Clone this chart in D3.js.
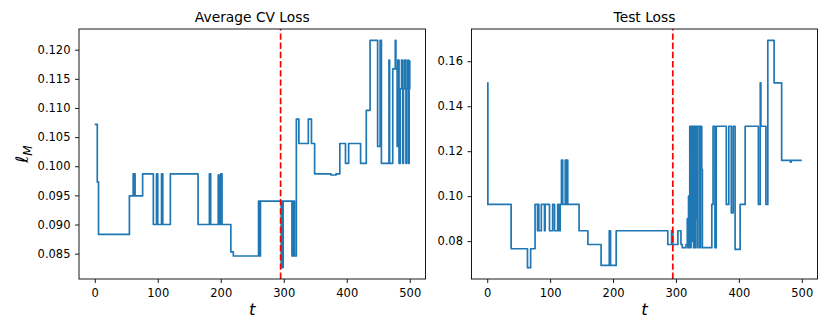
<!DOCTYPE html>
<html>
<head>
<meta charset="utf-8">
<script src="https://cdnjs.cloudflare.com/ajax/libs/d3/7.8.5/d3.min.js"></script>
<style>
  body { margin: 0; background: #fff; }
  svg { font-family: "DejaVu Sans", sans-serif; }
</style>
</head>
<body>
<div id="chart"></div>
<script>
// Figure size
const WIDTH = 830;
const HEIGHT = 332;
const PLOT_TOP = 29;
const PLOT_BOTTOM = 279;
const LINE_COLOR = "#1f77b4";

// Step data: each value holds from its t until the next change point
const cvT = [0, 4, 6, 55, 61, 62, 63, 64, 76, 93, 98, 100, 106, 108, 120, 164, 182, 184,
  196, 198, 200, 202, 216, 220, 260, 262, 263, 296, 297, 298, 299, 313, 314, 315, 316, 317,
  320, 324, 339, 344, 349, 375, 383, 389, 398, 403, 422, 431, 437, 449, 453, 455, 467, 468,
  473, 477, 478, 480, 481, 483, 485, 487, 489, 490, 492, 494, 495, 497, 498, 499, 500];
const cvLoss = [0.1072, 0.0973, 0.0883, 0.0949, 0.0987, 0.0949, 0.0987, 0.0949, 0.0987, 0.0900,
  0.0987, 0.0900, 0.0987, 0.0900, 0.0987, 0.0900, 0.0987, 0.0900,
  0.0985, 0.0900, 0.0987, 0.0900, 0.0853, 0.0846, 0.0940, 0.0846, 0.0940, 0.0826, 0.0940, 0.0826,
  0.0940, 0.0846, 0.0940, 0.0846, 0.0940, 0.0846,
  0.1081, 0.1039, 0.1081, 0.1039, 0.0987, 0.0985, 0.0987, 0.1039, 0.1005, 0.1039, 0.1005, 0.1096,
  0.1216, 0.1034, 0.1216, 0.1005, 0.1182, 0.1005,
  0.1167, 0.1216, 0.1167, 0.1034, 0.1182, 0.1005, 0.1133, 0.1182, 0.1005, 0.1133, 0.1182, 0.1005,
  0.1133, 0.1182, 0.1005, 0.1133, 0.1182];

const testT = [0, 1, 38, 64, 69, 76, 80, 81, 82, 86, 91, 92, 99, 104, 107, 112, 114, 116, 118,
  120, 124, 125, 126, 128, 146, 160, 181, 194, 196, 205, 287, 293, 295, 303, 308, 310, 316,
  318, 319, 320, 321, 322, 323, 324, 325, 326, 328, 329, 330, 331, 332, 333, 334, 335, 338,
  339, 341, 342, 357, 359, 362, 364, 380, 384, 388, 391, 394, 402, 410, 431, 434, 435, 443,
  446, 456, 468, 482, 483, 500];
const testLoss = [0.1504, 0.0963, 0.0766, 0.0682, 0.0766, 0.0963, 0.0846, 0.0963, 0.0846, 0.0963,
  0.0846, 0.0963, 0.0846, 0.0963, 0.0846, 0.0963, 0.0846, 0.0963, 0.1160,
  0.0963, 0.1160, 0.0963, 0.1160, 0.0963, 0.0846, 0.0785, 0.0692, 0.0846, 0.0692, 0.0846, 0.0785,
  0.0846, 0.0785, 0.0846, 0.0785, 0.0771, 0.0785,
  0.0900, 0.0771, 0.1000, 0.0771, 0.1311, 0.0771, 0.1311, 0.0800, 0.1311, 0.0771, 0.1311, 0.0771,
  0.1311, 0.0900, 0.1311, 0.0771, 0.1311, 0.0771,
  0.1311, 0.1119, 0.0771, 0.0963, 0.1311, 0.0771, 0.1311, 0.0963, 0.1311, 0.0926, 0.1311, 0.0763,
  0.0963, 0.1311, 0.0963, 0.1504, 0.1311, 0.0963,
  0.1693, 0.1504, 0.1159, 0.1151, 0.1159, 0.1159];

// Axis ticks and labels
const xTicks = [0, 100, 200, 300, 400, 500];
const cvTicks = [0.085, 0.090, 0.095, 0.100, 0.105, 0.110, 0.115, 0.120];
const testTicks = [0.08, 0.10, 0.12, 0.14, 0.16];
const titles = ["Average CV Loss", "Test Loss"];
const splitT = 295;

var svg = d3.select("#chart")
  .append("svg")
  .attr("width", WIDTH)
  .attr("height", HEIGHT);

drawPanel(0, 79, 425.5, cvT, cvLoss, cvTicks, ".3f", titles[0], true);
drawPanel(1, 471.5, 817.5, testT, testLoss, testTicks, ".2f", titles[1], false);

/**
 * Draw one subplot with its frame, axes, step line and split marker
 */
function drawPanel(idx, left, right, tArr, vArr, yTicks, fmt, title, withYLabel) {
  let data = tArr.map((t, i) => ({ t: t, v: vArr[i] }));

  // matplotlib style 5% margins
  let tExt = d3.extent(tArr);
  let tPad = (tExt[1] - tExt[0]) * 0.05;
  let vExt = d3.extent(vArr);
  let vPad = (vExt[1] - vExt[0]) * 0.05;

  let x = d3.scaleLinear()
    .domain([tExt[0] - tPad, tExt[1] + tPad])
    .range([left, right]);
  let y = d3.scaleLinear()
    .domain([vExt[0] - vPad, vExt[1] + vPad])
    .range([PLOT_BOTTOM, PLOT_TOP]);

  let g = svg.append("g");

  g.append("clipPath")
    .attr("id", "clip" + idx)
    .append("rect")
    .attr("x", left)
    .attr("y", PLOT_TOP)
    .attr("width", right - left)
    .attr("height", PLOT_BOTTOM - PLOT_TOP);

  // loss curve
  g.append("path")
    .datum(data)
    .attr("clip-path", "url(#clip" + idx + ")")
    .attr("fill", "none")
    .attr("stroke", LINE_COLOR)
    .attr("stroke-width", 1.7)
    .attr("stroke-linejoin", "round")
    .attr("d", d3.line()
      .x(d => x(d.t))
      .y(d => y(d.v))
      .curve(d3.curveStepAfter));

  // split marker, drawn bottom to top like axvline
  g.append("line")
    .attr("x1", x(splitT))
    .attr("x2", x(splitT))
    .attr("y1", PLOT_BOTTOM)
    .attr("y2", PLOT_TOP)
    .attr("stroke", "#ff0000")
    .attr("stroke-width", 1.7)
    .attr("stroke-dasharray", "6.4,2.8");

  // frame
  g.append("rect")
    .attr("x", left)
    .attr("y", PLOT_TOP)
    .attr("width", right - left)
    .attr("height", PLOT_BOTTOM - PLOT_TOP)
    .attr("fill", "none")
    .attr("stroke", "#000")
    .attr("stroke-width", 0.9);

  let gx = g.append("g")
    .attr("transform", "translate(0," + PLOT_BOTTOM + ")")
    .call(d3.axisBottom(x).tickValues(xTicks).tickSize(4).tickPadding(6));
  let gy = g.append("g")
    .attr("transform", "translate(" + left + ",0)")
    .call(d3.axisLeft(y).tickValues(yTicks).tickFormat(d3.format(fmt)).tickSize(4).tickPadding(4.5));

  [gx, gy].forEach(a => {
    a.select(".domain").remove();
    a.selectAll(".tick line").attr("stroke", "#000").attr("stroke-width", 0.9);
    a.selectAll(".tick text")
      .attr("fill", "#000")
      .style("font-family", "'DejaVu Sans', sans-serif")
      .style("font-size", "11.5px");
  });

  // title
  g.append("text")
    .attr("x", (left + right) / 2)
    .attr("y", 22)
    .attr("text-anchor", "middle")
    .style("font-size", "13.8px")
    .text(title);

  // x label
  g.append("text")
    .attr("x", (left + right) / 2)
    .attr("y", 315)
    .attr("text-anchor", "middle")
    .style("font-size", "16.5px")
    .style("font-style", "italic")
    .text("t");

  if (withYLabel) {
    let yl = g.append("text")
      .attr("transform", "translate(28," + ((PLOT_TOP + PLOT_BOTTOM) / 2) + ") rotate(-90)")
      .attr("text-anchor", "middle")
      .style("font-style", "italic");
    yl.append("tspan").style("font-size", "17px").text("ℓ");
    yl.append("tspan").attr("dy", 3.5).style("font-size", "12px").text("M");
  }
}
</script>
</body>
</html>
